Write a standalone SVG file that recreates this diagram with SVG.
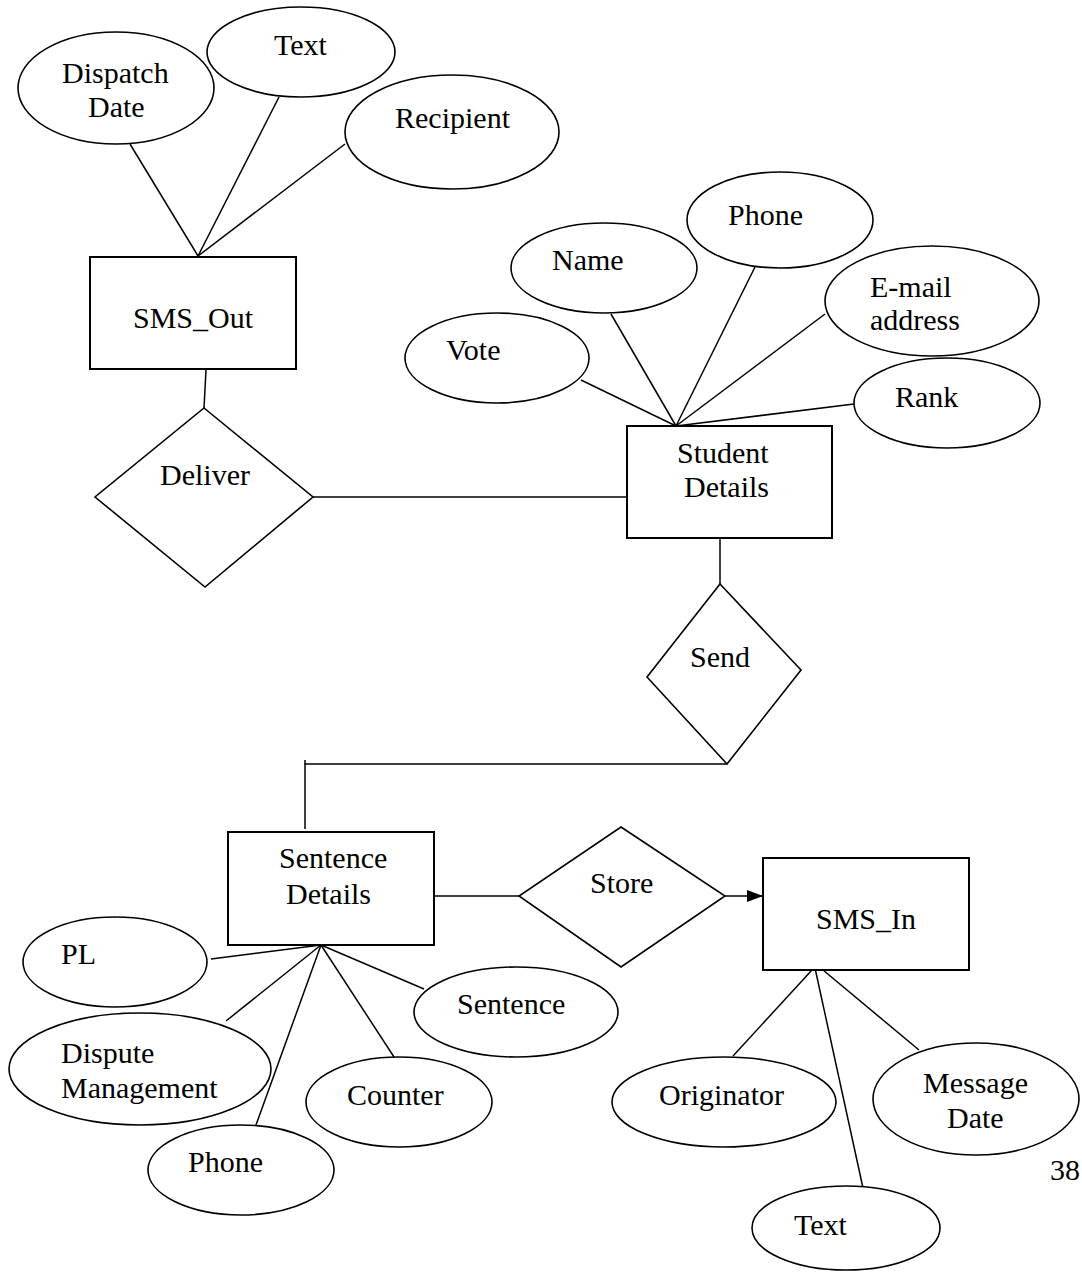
<svg xmlns="http://www.w3.org/2000/svg" width="1082" height="1272" viewBox="0 0 1082 1272">
<defs>
<style>
.e{fill:#fff;stroke:#000;stroke-width:1.6}
.r{fill:#fff;stroke:#000;stroke-width:2}
.d{fill:#fff;stroke:#000;stroke-width:1.6}
.c{fill:none;stroke:#000;stroke-width:1.5}
text{font-family:"Liberation Serif","Times New Roman",serif;font-size:30px;fill:#000}
</style>
<marker id="ah" viewBox="0 0 16 12" refX="16" refY="6" markerWidth="16" markerHeight="12" markerUnits="userSpaceOnUse" orient="auto">
<path d="M0,0 L16,6 L0,12 Z" fill="#000"/>
</marker>
</defs>
<rect width="1082" height="1272" fill="#fff"/>
<g id="connectors">
<line class="c" x1="198" y1="256" x2="130" y2="144"/>
<line class="c" x1="198" y1="256" x2="279" y2="97"/>
<line class="c" x1="198" y1="256" x2="345" y2="144"/>
<line class="c" x1="206" y1="370" x2="204" y2="408"/>
<line class="c" x1="313" y1="497" x2="627" y2="497"/>
<line class="c" x1="676" y1="426" x2="581" y2="380"/>
<line class="c" x1="676" y1="426" x2="611" y2="314"/>
<line class="c" x1="676" y1="426" x2="755" y2="267"/>
<line class="c" x1="676" y1="426" x2="825" y2="314"/>
<line class="c" x1="676" y1="426" x2="854" y2="404"/>
<line class="c" x1="720" y1="538" x2="720" y2="584"/>
<polyline class="c" points="727,764 305,764 305,829"/>
<line class="c" x1="305" y1="760" x2="305" y2="764"/>
<line class="c" x1="430" y1="896" x2="519" y2="896"/>
<line class="c" x1="725" y1="896" x2="763" y2="896" marker-end="url(#ah)"/>
<line class="c" x1="321" y1="945" x2="211" y2="959"/>
<line class="c" x1="321" y1="945" x2="226" y2="1021"/>
<line class="c" x1="321" y1="945" x2="256" y2="1125"/>
<line class="c" x1="321" y1="945" x2="394" y2="1057"/>
<line class="c" x1="321" y1="945" x2="424" y2="989"/>
<line class="c" x1="812" y1="970" x2="733" y2="1056"/>
<line class="c" x1="815" y1="968" x2="863" y2="1188"/>
<line class="c" x1="823" y1="970" x2="919" y2="1050"/>
</g>
<g id="dispatch-date"><ellipse class="e" cx="116" cy="88" rx="98" ry="56"/><text x="62" y="83">Dispatch</text><text x="88" y="117">Date</text></g>
<g id="text-out"><ellipse class="e" cx="301" cy="52" rx="94" ry="45"/><text x="274" y="55">Text</text></g>
<g id="recipient"><ellipse class="e" cx="452" cy="132" rx="107" ry="57"/><text x="395" y="128">Recipient</text></g>
<g id="sms-out"><rect class="r" x="90" y="257" width="206" height="112"/><text x="133" y="328">SMS_Out</text></g>
<g id="deliver"><polygon class="d" points="204,408 313,497 205,587 95,497"/><text x="160" y="485">Deliver</text></g>
<g id="vote"><ellipse class="e" cx="497" cy="358" rx="92" ry="45"/><text x="446" y="360">Vote</text></g>
<g id="name"><ellipse class="e" cx="604" cy="268" rx="93" ry="45"/><text x="552" y="270">Name</text></g>
<g id="phone-student"><ellipse class="e" cx="780" cy="220" rx="93" ry="48"/><text x="728" y="225">Phone</text></g>
<g id="email"><ellipse class="e" cx="932" cy="301" rx="107" ry="55"/><text x="870" y="297">E-mail</text><text x="870" y="330">address</text></g>
<g id="rank"><ellipse class="e" cx="947" cy="403" rx="93" ry="45"/><text x="895" y="407">Rank</text></g>
<g id="student-details"><rect class="r" x="627" y="426" width="205" height="112"/><text x="677" y="463">Student</text><text x="684" y="497">Details</text></g>
<g id="send"><polygon class="d" points="720,584 801,670 727,764 647,677"/><text x="690" y="667">Send</text></g>
<g id="sentence-details"><rect class="r" x="228" y="832" width="206" height="113"/><text x="279" y="868">Sentence</text><text x="286" y="904">Details</text></g>
<g id="store"><polygon class="d" points="621,827 725,896 621,967 519,896"/><text x="590" y="893">Store</text></g>
<g id="sms-in"><rect class="r" x="763" y="858" width="206" height="112"/><text x="816" y="929">SMS_In</text></g>
<g id="pl"><ellipse class="e" cx="115" cy="962" rx="92" ry="45"/><text x="61" y="964">PL</text></g>
<g id="dispute-management"><ellipse class="e" cx="140" cy="1069" rx="131" ry="56"/><text x="61" y="1063">Dispute</text><text x="61" y="1098">Management</text></g>
<g id="phone-sentence"><ellipse class="e" cx="241" cy="1170" rx="93" ry="45"/><text x="188" y="1172">Phone</text></g>
<g id="counter"><ellipse class="e" cx="399" cy="1102" rx="93" ry="45"/><text x="347" y="1105">Counter</text></g>
<g id="sentence"><ellipse class="e" cx="516" cy="1012" rx="102" ry="45"/><text x="457" y="1014">Sentence</text></g>
<g id="originator"><ellipse class="e" cx="724" cy="1102" rx="112" ry="45"/><text x="659" y="1105">Originator</text></g>
<g id="message-date"><ellipse class="e" cx="976" cy="1099" rx="103" ry="56"/><text x="923" y="1093">Message</text><text x="947" y="1128">Date</text></g>
<g id="text-in"><ellipse class="e" cx="846" cy="1228" rx="94" ry="42"/><text x="794" y="1235">Text</text></g>
<text x="1050" y="1180">38</text>
</svg>
